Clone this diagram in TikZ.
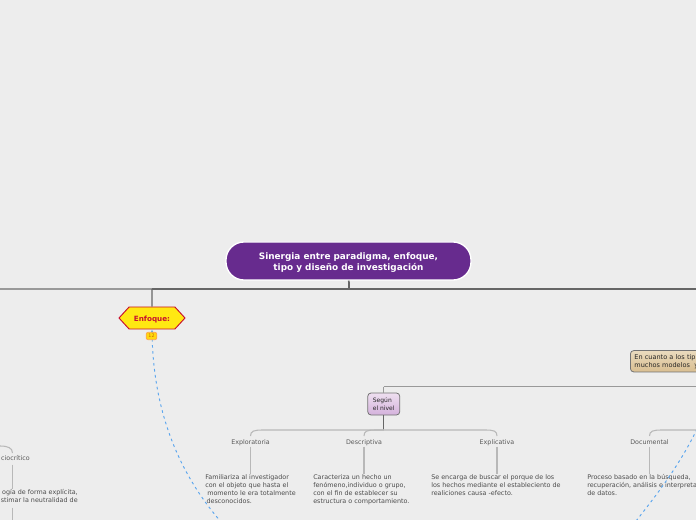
\documentclass[tikz,border=0pt]{standalone}
\usepackage{fontspec}
\setmainfont{DejaVu Sans}
\usepackage{tikz}
\usetikzlibrary{shapes,arrows.meta}
\definecolor{fondo}{HTML}{EDEDED}
\definecolor{morado}{HTML}{672B8E}
\definecolor{amarillo}{HTML}{FFE812}
\definecolor{carmesi}{HTML}{C8102E}
\definecolor{azul}{HTML}{5AA5EE}
\definecolor{lilaA}{HTML}{EEDFF0}
\definecolor{lilaB}{HTML}{D4B2DC}
\definecolor{arenaA}{HTML}{EADBBE}
\definecolor{arenaB}{HTML}{D9BE91}

\begin{document}
\begin{tikzpicture}[
	x=0.75pt, y=-0.75pt,
	root/.style={rectangle, draw=white, line width=1pt, fill=morado, text=white, rounded corners=13.5pt, minimum width=183.75pt, minimum height=28.5pt, align=center, font=\fontsize{6.65}{8.3}\selectfont\bfseries},
	tag/.style={rectangle, draw=black!55, line width=0.6pt, rounded corners=2.5pt, align=left, text=black!85, inner sep=0pt},
	topic/.style={text=black!65, inner sep=0pt, text height=4.5pt, text depth=0.5pt, font=\fontsize{4.75}{6}\selectfont},
	note/.style={text=black!70, inner sep=0pt, align=left, font=\fontsize{4.8}{6}\selectfont},
	trunk/.style={draw, black!60, line width=1.3pt},
	twig/.style={draw, black!28, line width=0.8pt},
	link/.style={draw, azul, line width=0.7pt, dash pattern=on 2pt off 2.5pt}
	]
	\useasboundingbox (0,0) rectangle (696,520);
	\clip (0,0) rectangle (696,520);
	\fill [fondo] (0,0) rectangle (696,520);

	% Nodos
	\node [root] (title) at (348.5,261) {\rule{0pt}{7.2pt}Sinergia entre paradigma, enfoque,\\tipo y diseño de investigación};
	\node [shape=signal, signal to=east and west, signal pointer angle=95, draw=carmesi, line width=0.7pt, fill=amarillo, text=carmesi, minimum width=49.5pt, minimum height=16.5pt, inner sep=0pt, text height=4.5pt, text depth=0pt, font=\fontsize{5.4}{6}\selectfont\bfseries] (enfoque) at (152,318) {Enfoque:};
	\node [tag, top color=lilaA, bottom color=lilaB, minimum width=24pt, minimum height=16.5pt, font=\fontsize{4.5}{6}\selectfont] (nivel) at (383.75,404) {Según\\el nivel};
	\node [tag, top color=arenaA, bottom color=arenaB, minimum width=90pt, minimum height=16pt, text width=86pt, anchor=west, font=\fontsize{4.9}{6}\selectfont] (cuanto) at (630,361.25) {\hspace*{1pt}En cuanto a los tip\\\hspace*{1pt}muchos modelos\ \ y};

	\node [topic] (explora) at (250.5,442) {Exploratoria};
	\node [topic] (descrip) at (364,442) {Descriptiva};
	\node [topic] (explica) at (497,442) {Explicativa};
	\node [topic] (docum) at (649.5,442) {Documental};
	\node [topic, anchor=east] (socio) at (30,458) {ciocrítico};

	\node [note, anchor=north west] (nexplora) at (205,474) {Familiariza al investigador\\con el objeto que hasta el\\\ momento le era totalmente\\\hspace*{1pt}desconocidos.};
	\node [note, anchor=north west] (ndescrip) at (313,474) {Caracteriza un hecho un\\fenómeno,individuo o grupo,\\con el fin de establecer su\\estructura o comportamiento.};
	\node [note, anchor=north west] (nexplica) at (431,474) {Se encarga de buscar el porque de los\\los hechos mediante el estableciento de\\realiciones causa -efecto.};
	\node [note, anchor=north west] (ndocum) at (587,474) {Proceso basado en la búsqueda,\\recuperación, análisis e interpreta\\de datos.};
	\node [note, anchor=north east, align=right] (nsocio) at (78,489) {ogía de forma explícita,\\stimar la neutralidad de};

	% Puntos libres
	\coordinate (izq) at (0,289);
	\coordinate (der) at (696,289);
	\coordinate (cruce) at (152,289);
	\coordinate (raiz) at (349,289);
	\coordinate (rama) at (383.75,386.5);
	\coordinate (finrama) at (696,386.5);
	\coordinate (nudo) at (383.75,430);
	\coordinate (nudodoc) at (696,430);
	\coordinate (nudosoc) at (0,446);
	\coordinate (finsoc) at (12.5,520);
	\coordinate (finazul) at (222,523);
	\coordinate (azuldos) at (636,521);
	\coordinate (azultres) at (698,427);

	% Conexiones
	\path [trunk, black!40] (izq) -- (cruce);
	\path [trunk] (cruce) -- (der);
	\path [trunk] (title) -- (raiz);
	\path [trunk, line width=1.1pt] (cruce) -- (enfoque);
	\path [draw, black!40, line width=0.7pt] (rama) -- (finrama);
	\path [draw, black!40, line width=0.7pt] (rama) -- (nivel);
	\path [trunk, line width=1.1pt] (nivel) -- (nudo);
	\path [twig] (nudo) -- (263,430) .. controls (254,430) and (250.5,431) .. (250.5,436);
	\path [twig] (nudo) -- (376,430) .. controls (367,430) and (364,431) .. (364,436);
	\path [twig] (nudo) -- (485,430) .. controls (494,430) and (497,431) .. (497,436);
	\path [twig] (nudodoc) -- (662,430) .. controls (653,430) and (649.5,431) .. (649.5,436);
	\path [twig] (nudosoc) .. controls (8,446) and (12.5,448) .. (12.5,453);
	\path [twig] (explora.south) ++(0,1) -- (nexplora.north -| explora);
	\path [twig] (descrip.south) ++(0,1) -- (ndescrip.north -| descrip);
	\path [twig] (explica.south) ++(0,1) -- (nexplica.north -| explica);
	\path [twig] (docum.south) ++(0,1) -- (ndocum.north -| docum);
	\path [twig] (finsoc |- socio.south) ++(0,3) -- (finsoc |- nsocio.north);
	\path [twig] (finsoc |- nsocio.south) ++(0,5) -- (finsoc);
	\path [link, {Latex[length=3pt,width=3pt,fill=azul]}-] (enfoque.south) .. controls (153,400) and (172,466) .. (finazul);
	\path [link] (azuldos) .. controls (655,497) and (680,465) .. (azultres);

	\node [rectangle, draw=orange!70, fill=amarillo!85!orange, text=orange!80!black, line width=0.6pt, rounded corners=1.5pt, minimum width=8pt, minimum height=5.5pt, inner sep=0pt, font=\fontsize{3.6}{4}\selectfont] (badge) at (151.5,336) {12};
\end{tikzpicture}
\end{document}
